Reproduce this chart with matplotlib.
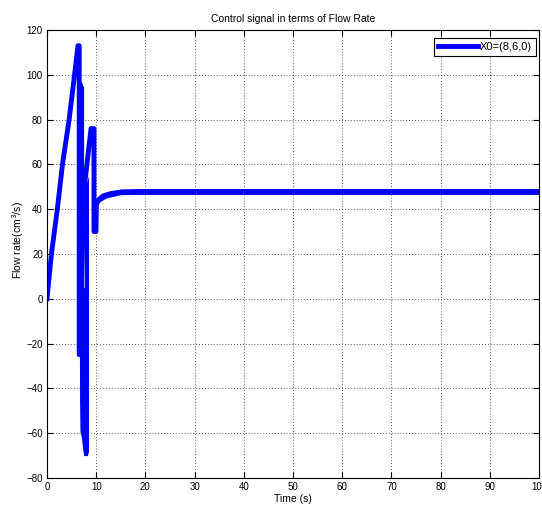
import numpy as np
import matplotlib
matplotlib.use("Agg")
import matplotlib.pyplot as plt

plt.rcParams['font.family'] = ['Liberation Sans', 'DejaVu Sans']

# centre line of the control signal (time s, flow rate cm^3/s)
t_line = [0, 0.9, 2.1, 3.15, 4.5, 5.6, 6.3, 6.55, 6.55,
          7.6, 8.95, 9.55, 9.55, 9.95, 10.05, 10.6, 11.5, 13, 15, 20, 100]
q_line = [0, 20, 40, 60, 80, 100, 113, 113, -25,
          50, 76, 76, 30, 30, 42, 44.5, 46, 47, 47.6, 47.8, 47.8]

# envelope of the fast switching during the transient
t_band = [6.45, 6.6, 6.62, 6.7, 7.0, 7.3, 7.44, 7.45, 7.58, 7.59, 8.2, 8.45]
q_band_lo = [-25, -25, -45, -59, -62, -68, -69, -70, -70, -70, -70, -68]
q_band_hi = [97, 97, 97, 97, 97, 95, 95, 5, 5, 50, 53, 55]

# envelope of the chattering at steady state
t_ss = [10.5, 12, 15, 20, 100]
q_ss_lo = [43, 45, 46.5, 46.6, 46.6]
q_ss_hi = [45.5, 47.5, 49, 49.2, 49.2]

legend_label = 'X0=(8,6,0)'

fig = plt.figure(figsize=(5.42, 5.11), dpi=100)
ax = fig.add_axes([0.0867, 0.0646, 0.9077, 0.8767])

ax.fill_between(t_band, q_band_lo, q_band_hi, color='#0000ff', lw=0)
ax.fill_between(t_ss, q_ss_lo, q_ss_hi, color='#0000ff', lw=0)
ax.plot(t_line, q_line, color='#0000ff', lw=3.5, label=legend_label)

ax.set_xlim(0, 100)
ax.set_ylim(-80, 120)
ax.set_xticks(np.arange(0, 101, 10))
ax.set_yticks(np.arange(-80, 121, 20))
ax.tick_params(direction='in', top=True, right=True, length=4, labelsize=7, pad=3)
ax.grid(True, linestyle=(0, (1, 2.5)), color='#222222', lw=0.6)
for s in ax.spines.values():
    s.set_linewidth(0.8)

ax.set_title('Control signal in terms of Flow Rate', fontsize=7.5, pad=6)
ax.set_xlabel('Time (s)', fontsize=7.5, labelpad=1)
ax.set_ylabel('Flow rate(cm$^3$/s)', fontsize=7.5)
ax.yaxis.set_label_coords(-0.042, 0.53)

leg = ax.legend(loc='upper right', bbox_to_anchor=(0.989, 0.9256),
                bbox_transform=fig.transFigure, borderaxespad=0,
                fontsize=8, handlelength=3.6, fancybox=False,
                framealpha=1, edgecolor='black',
                borderpad=0.35, handletextpad=0.15)
leg.get_frame().set_linewidth(0.8)

fig.savefig('out.png', dpi=100)
